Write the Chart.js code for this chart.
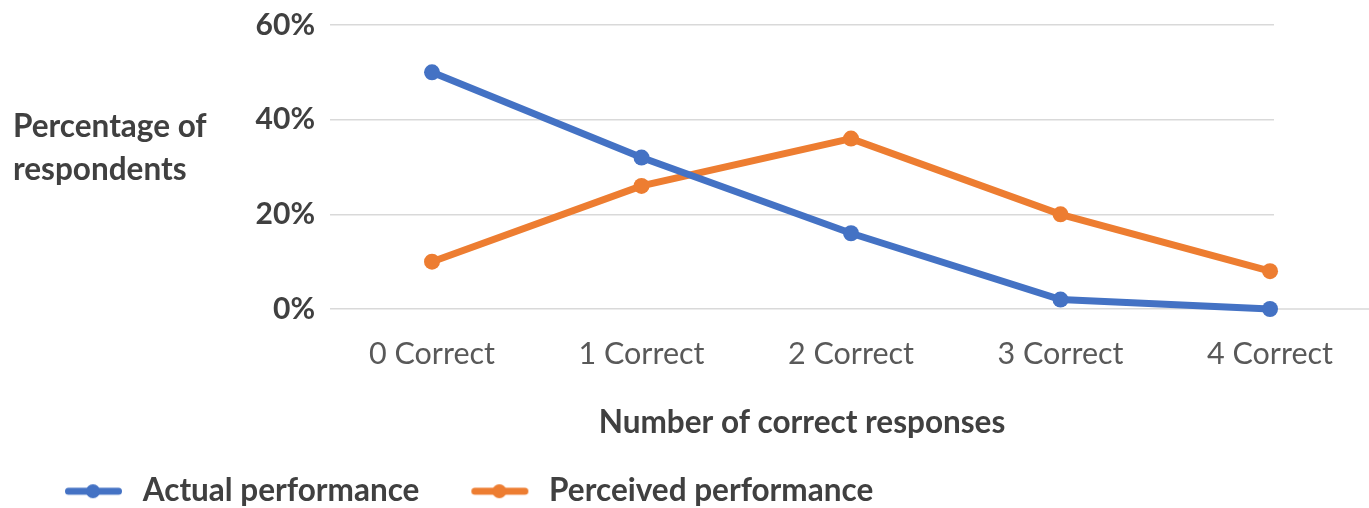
<!DOCTYPE html>
<html>
<head>
<meta charset="utf-8">
<script src="https://cdn.jsdelivr.net/npm/chart.js@4"></script>
<style>
  html, body { margin: 0; padding: 0; overflow: hidden; background: #ffffff; }
  canvas { display: block; }
</style>
</head>
<body>
<canvas id="chart" width="1369" height="517"></canvas>
<script>
// Survey results: share of respondents by number of correct answers
const categories = ['0 Correct', '1 Correct', '2 Correct', '3 Correct', '4 Correct'];
const actualPerformance = [50, 32, 16, 2, 0];
const perceivedPerformance = [10, 26, 36, 20, 8];
const yTickValues = [0, 20, 40, 60];
const yTitleLines = ['Percentage of', 'respondents'];
const xTitle = 'Number of correct responses';
const seriesNames = ['Actual performance', 'Perceived performance'];

const FONT = 'Lato';
const BLUE = '#4472C4';
const ORANGE = '#ED7D31';
const GRID = '#d9d9d9';
const DARK = '#404040';
const MID = '#595959';

// Legend symbol: a short line with a dot in the middle
function legendSwatch(color) {
  const c = document.createElement('canvas');
  c.width = 94; c.height = 18;
  const g = c.getContext('2d');
  g.strokeStyle = color;
  g.lineWidth = 7;
  g.lineCap = 'round';
  g.beginPath(); g.moveTo(35.5, 9); g.lineTo(85.5, 9); g.stroke();
  g.fillStyle = color;
  g.beginPath(); g.arc(60, 9, 7, 0, Math.PI * 2); g.fill();
  return c;
}
const swatches = [legendSwatch(BLUE), legendSwatch(ORANGE)];

// Two-line horizontal title to the left of the value axis
const yTitlePlugin = {
  id: 'yTitle',
  afterDraw(chart) {
    const ctx = chart.ctx;
    ctx.save();
    ctx.font = 'bold 31.5px ' + FONT;
    ctx.fillStyle = DARK;
    ctx.textAlign = 'left';
    ctx.textBaseline = 'middle';
    yTitleLines.forEach((line, i) => ctx.fillText(line, 13, 127 + i * 43));
    ctx.restore();
  }
};

// The zero baseline continues to the right edge of the canvas
const baselinePlugin = {
  id: 'baselineExtend',
  beforeDatasetsDraw(chart) {
    const ctx = chart.ctx;
    const y = chart.scales.y.getPixelForValue(0);
    ctx.save();
    ctx.strokeStyle = GRID;
    ctx.lineWidth = 1.5;
    ctx.beginPath();
    ctx.moveTo(chart.chartArea.right, y);
    ctx.lineTo(chart.width, y);
    ctx.stroke();
    ctx.restore();
  }
};

const toPoints = arr => arr.map((v, i) => ({ x: i, y: v }));

function seriesStyle(color) {
  return {
    borderColor: color,
    backgroundColor: color,
    borderWidth: 7,
    pointRadius: 8,
    pointBorderWidth: 0,
    pointBackgroundColor: color,
    tension: 0,
    clip: false
  };
}

new Chart(document.getElementById('chart'), {
  type: 'line',
  data: {
    datasets: [
      Object.assign({ label: seriesNames[0], data: toPoints(actualPerformance) }, seriesStyle(BLUE)),
      Object.assign({ label: seriesNames[1], data: toPoints(perceivedPerformance) }, seriesStyle(ORANGE))
    ]
  },
  options: {
    responsive: false,
    animation: false,
    layout: { padding: { left: 13, top: 25, right: 95, bottom: 0 } },
    plugins: {
      tooltip: { enabled: false },
      legend: {
        position: 'bottom',
        align: 'start',
        labels: {
          usePointStyle: true,
          pointStyleWidth: 94,
          padding: 20,
          color: DARK,
          font: { family: FONT, size: 31.5, weight: 'bold' },
          generateLabels(chart) {
            const items = Chart.defaults.plugins.legend.labels.generateLabels(chart);
            items.forEach((it, i) => { it.pointStyle = swatches[i]; });
            return items;
          }
        }
      }
    },
    scales: {
      x: {
        type: 'linear',
        min: -0.487,
        max: 4.019,
        grid: { display: false, drawTicks: false },
        border: { display: false },
        ticks: {
          padding: 26.7,
          color: MID,
          maxRotation: 0,
          autoSkip: false,
          font: { family: FONT, size: 30.5 },
          callback: v => categories[v]
        },
        title: {
          display: true,
          text: xTitle,
          color: DARK,
          font: { family: FONT, size: 31.5, weight: 'bold' },
          padding: { top: 0, bottom: 13.6 }
        },
        afterBuildTicks(scale) {
          scale.ticks = categories.map((_, i) => ({ value: i }));
        },
        afterFit(scale) {
          scale.height = 146.5;
          scale.paddingLeft = 0;
          scale.paddingRight = 0;
        }
      },
      y: {
        min: 0,
        max: 60,
        grid: { color: GRID, lineWidth: 1.5, drawTicks: false },
        border: { display: false },
        ticks: {
          padding: 15,
          color: DARK,
          font: { family: FONT, size: 30, weight: 'bold' },
          callback: v => v + '%'
        },
        afterBuildTicks(scale) {
          scale.ticks = yTickValues.map(v => ({ value: v }));
        },
        afterFit(scale) {
          scale.width = 317;
          scale.paddingTop = 0;
          scale.paddingBottom = 0;
        }
      }
    }
  },
  plugins: [yTitlePlugin, baselinePlugin]
});
</script>
</body>
</html>
